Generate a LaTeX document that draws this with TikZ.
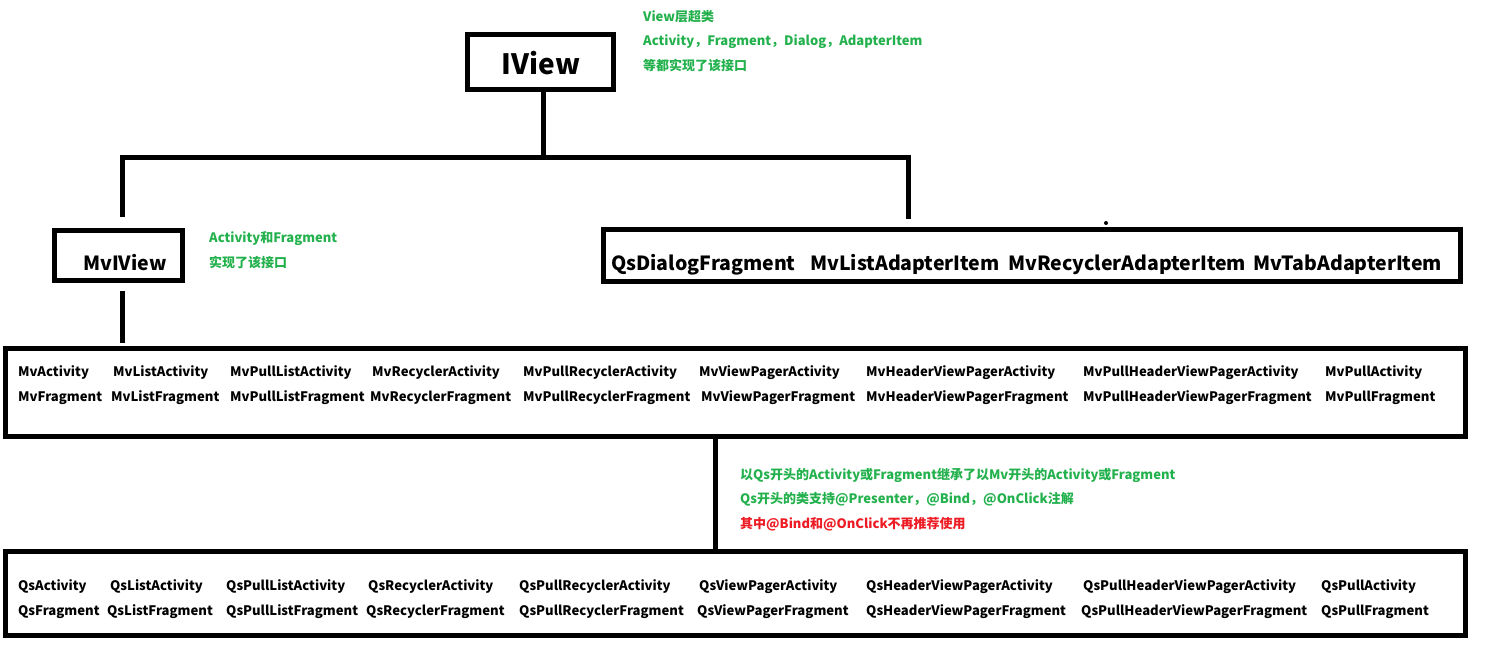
\documentclass[tikz,border=0pt]{standalone}
\usepackage{fontspec}
\setmainfont{Noto Sans CJK SC}
\definecolor{ngreen}{RGB}{34,177,76}
\definecolor{nred}{RGB}{237,28,36}
\begin{document}
\begin{tikzpicture}[x=1pt,y=-1pt,
  box/.style={draw=black,line width=5pt,inner sep=0pt,anchor=north west},
  conn/.style={line width=5pt,line cap=rect},
  item/.style={anchor=base west,inner sep=0pt,font=\bfseries\fontsize{13.1}{15}\selectfont},
  mid/.style={anchor=base west,inner sep=0pt,font=\bfseries\fontsize{19.5}{22}\selectfont},
  note/.style={anchor=base west,inner sep=0pt,text=ngreen,font=\bfseries\fontsize{13}{15}\selectfont},
  rnote/.style={note,text=nred}]
\useasboundingbox[fill=white] (0,0) rectangle (1487,671);
% boxes
\node[box,minimum width=146pt,minimum height=55pt] (iview) at (465,32) {};
\node[anchor=base,inner sep=0pt,font=\bfseries\fontsize{28}{30}\selectfont] (iviewt) at (541,75) {IView};
\node[box,minimum width=128pt,minimum height=50pt] (mviview) at (52,228) {};
\node[mid] (mviviewt) at (83,270) {MvIView};
\node[box,minimum width=857pt,minimum height=52pt] (qsd) at (600.5,226.5) {};
\node[box,minimum width=1460pt,minimum height=88pt] (mvbox) at (2.5,345.5) {};
\node[box,minimum width=1460pt,minimum height=84pt] (qsbox) at (2.5,548.5) {};
% connectors
\coordinate (jn) at (543,158);
\coordinate (jl) at (122,158);
\coordinate (jr) at (908,158);
\coordinate (el) at (122,214);
\coordinate (er) at (908,216);
\coordinate (ma) at (122,293);
\coordinate (mb) at (122,340);
\draw[conn] (iview.south -| jn) -- (jn);
\draw[conn] (el) -- (jl) -- (jr) -- (er);
\draw[conn] (ma) -- (mb);
\coordinate (qa) at (715,436);
\draw[conn] (qa) -- (qa |- qsbox.north);
\fill (1106,223) circle (2pt);
% qsdialog row
\node[mid] (t1) at (611,270) {QsDialogFragment};
\node[mid] (t2) at (810,270) {MvListAdapterItem};
\node[mid] (t3) at (1008,270) {MvRecyclerAdapterItem};
\node[mid] (t4) at (1253,270) {MvTabAdapterItem};
% Mv rows
\foreach \x/\t [count=\i] in {18/MvActivity,113/MvListActivity,230/MvPullListActivity,372/MvRecyclerActivity,523/MvPullRecyclerActivity,699/MvViewPagerActivity,866/MvHeaderViewPagerActivity,1083/MvPullHeaderViewPagerActivity,1325/MvPullActivity}
  {\node[item] (mva\i) at (\x,376) {\t};}
\foreach \x/\t [count=\i] in {18/MvFragment,111/MvListFragment,230/MvPullListFragment,370/MvRecyclerFragment,523/MvPullRecyclerFragment,701/MvViewPagerFragment,866/MvHeaderViewPagerFragment,1083/MvPullHeaderViewPagerFragment,1325/MvPullFragment}
  {\node[item] (mvf\i) at (\x,401) {\t};}
% Qs rows
\foreach \x/\t [count=\i] in {18/QsActivity,110/QsListActivity,226/QsPullListActivity,368/QsRecyclerActivity,519/QsPullRecyclerActivity,699/QsViewPagerActivity,866/QsHeaderViewPagerActivity,1083/QsPullHeaderViewPagerActivity,1321/QsPullActivity}
  {\node[item] (qsa\i) at (\x,590) {\t};}
\foreach \x/\t [count=\i] in {18/QsFragment,107/QsListFragment,226/QsPullListFragment,366/QsRecyclerFragment,519/QsPullRecyclerFragment,697/QsViewPagerFragment,866/QsHeaderViewPagerFragment,1081/QsPullHeaderViewPagerFragment,1321/QsPullFragment}
  {\node[item] (qsf\i) at (\x,615) {\t};}
% notes
\node[note] (n1) at (643,22) {View层超类};
\node[note] (n2) at (643,46) {Activity，Fragment，Dialog，AdapterItem};
\node[note] (n3) at (643,71) {等都实现了该接口};
\node[note] (n4) at (209,242) {Activity和Fragment};
\node[note] (n5) at (209,267) {实现了该接口};
\node[note] (n6) at (740,479) {以Qs开头的Activity或Fragment继承了以Mv开头的Activity或Fragment};
\node[note] (n7) at (740,503) {Qs开头的类支持@Presenter，@Bind，@OnClick注解};
\node[rnote] (n8) at (740,528) {其中@Bind和@OnClick不再推荐使用};
\end{tikzpicture}
\end{document}
